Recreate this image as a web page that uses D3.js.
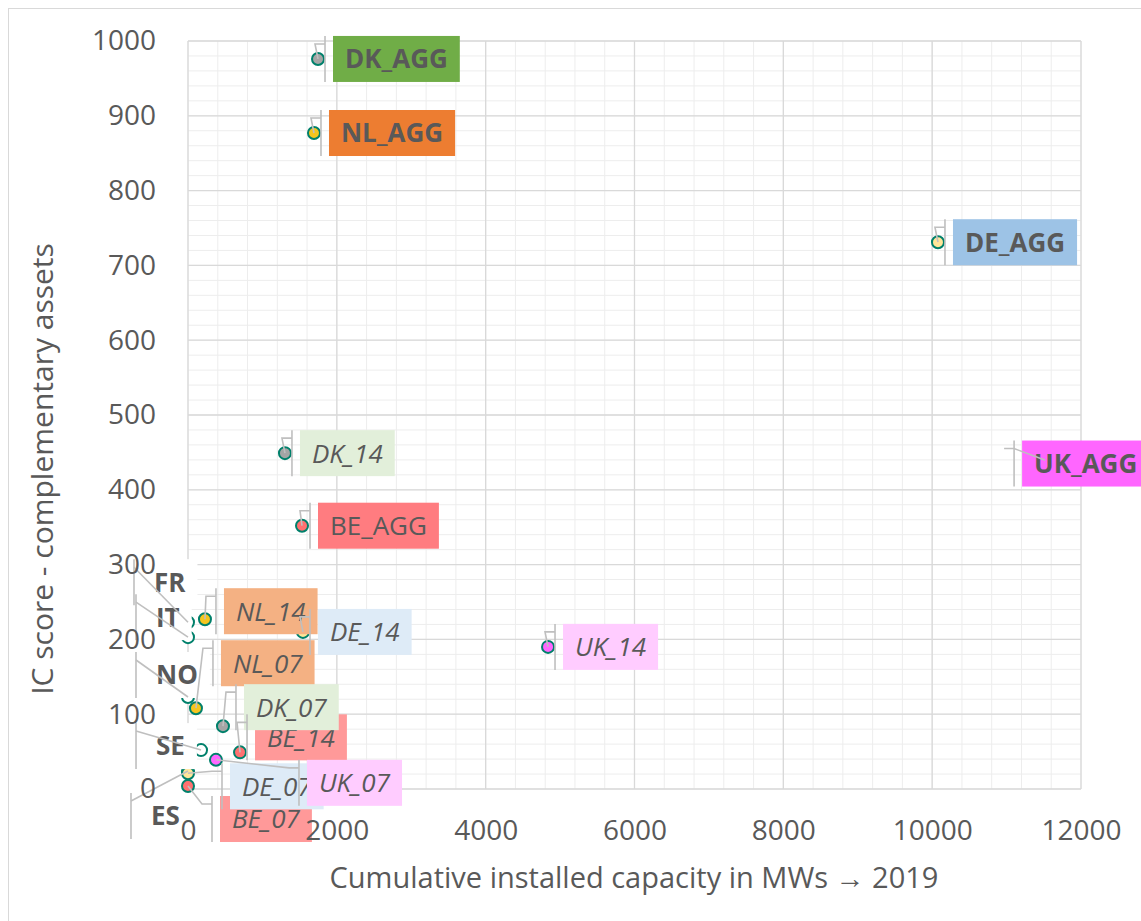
<!DOCTYPE html>
<html>
<head>
<meta charset="utf-8">
<script src="https://cdn.jsdelivr.net/npm/d3@7.9.0/dist/d3.min.js"></script>
<style>
  body { margin: 0; background: #fff; }
  svg { display: block; font-family: "Open Sans", "Noto Sans", sans-serif; }
</style>
</head>
<body>
<svg id="chart" width="1141" height="921"></svg>
<script>
// data
const names    = ["DK_AGG", "NL_AGG", "DE_AGG", "UK_AGG", "BE_AGG", "DK_14", "UK_14", "NL_14", "DE_14", "NL_07",
                  "FR", "IT", "NO", "SE", "ES", "BE_14", "DK_07", "BE_07", "DE_07", "UK_07"];
const capacity = [1747, 1693, 10078, 12700, 1532, 1303, 4838, 228, 1545, 107,
                  0, 0, 0, 175, 0, 699, 470, 0, 0, 376];
const score    = [976, 877, 731, 395, 352, 449, 190, 227, 210, 108,
                  223, 203, 123, 52, 24, 49, 84, 4, 21, 39];
const xTicks = [0, 2000, 4000, 6000, 8000, 10000, 12000];
const yTicks = [0, 100, 200, 300, 400, 500, 600, 700, 800, 900, 1000];

// styling per country / label kind
const markerFill = { DK: "#a5a5a5", NL: "#f5c51f", DE: "#ffe699", UK: "#ff66ff", BE: "#ff7070" };
const labelFill = {
  DK_AGG: "#70ad47", NL_AGG: "#ed7d31", DE_AGG: "#9dc3e6", UK_AGG: "#ff66ff", BE_AGG: "#ff7c80",
  DK_14: "#e2efda", DK_07: "#e2efda", NL_14: "#f4b183", NL_07: "#f4b183",
  DE_14: "#deebf7", DE_07: "#deebf7", UK_14: "#ffccff", UK_07: "#ffccff",
  BE_14: "#ff9999", BE_07: "#ff9999"
};
// label box offsets from the point (left edge, vertical centre)
const labelOffset = {
  UK_AGG: [-111, -30], NL_14: [19, -8], NL_07: [25, -45], DK_07: [21, -19], BE_14: [15, -15],
  DE_07: [42, 13], UK_07: [91, 23], BE_07: [32, 33], BE_AGG: [16, 0],
  FR: [-46, -40], IT: [-44, -20], NO: [-44, -22], SE: [-57, -4], ES: [-49, 45]
};

const data = names.map((n, i) => ({ name: n, x: capacity[i], y: score[i] }));

const svg = d3.select("#chart");
const textColor = "#595959";

const x = d3.scaleLinear().domain([0, 12000]).range([188, 1081]);
const y = d3.scaleLinear().domain([0, 1000]).range([789, 41]);

// outer chart border
svg.append("rect")
  .attr("x", 8.5).attr("y", 8.5).attr("width", 1300).attr("height", 1100)
  .attr("fill", "#fff").attr("stroke", "#d9d9d9");

// minor gridlines
const grid = svg.append("g");
grid.selectAll(".mx").data(d3.range(0, 12001, 400)).join("line")
  .attr("x1", d => x(d)).attr("x2", d => x(d)).attr("y1", y(0)).attr("y2", y(1000))
  .attr("stroke", "#ededed");
grid.selectAll(".my").data(d3.range(0, 1001, 20)).join("line")
  .attr("y1", d => y(d)).attr("y2", d => y(d)).attr("x1", x(0)).attr("x2", x(12000))
  .attr("stroke", "#ededed");
// major gridlines
grid.selectAll(".Mx").data(xTicks).join("line")
  .attr("x1", d => x(d)).attr("x2", d => x(d)).attr("y1", y(0)).attr("y2", y(1000))
  .attr("stroke", "#d9d9d9").attr("stroke-width", 1.3);
grid.selectAll(".My").data(yTicks).join("line")
  .attr("y1", d => y(d)).attr("y2", d => y(d)).attr("x1", x(0)).attr("x2", x(12000))
  .attr("stroke", "#d9d9d9").attr("stroke-width", 1.3);

// points, clipped to plot area
svg.append("clipPath").attr("id", "plotClip").append("rect")
  .attr("x", x(0) - 8).attr("y", y(1000) - 8).attr("width", x(12000) - x(0) + 8).attr("height", y(0) - y(1000) + 16);

svg.append("g").attr("clip-path", "url(#plotClip)")
  .selectAll("circle").data(data).join("circle")
  .attr("cx", d => x(d.x)).attr("cy", d => y(d.y)).attr("r", 6)
  .attr("fill", d => markerFill[d.name.split("_")[0]] || "#fff")
  .attr("stroke", "#00806b").attr("stroke-width", 2);

// labels
const labels = svg.append("g");
const boxes = {};
data.forEach(d => {
  const off = labelOffset[d.name] || [15, 0];
  const px = x(d.x), py = y(d.y);
  const left = px + off[0], cy = py + off[1];
  const isAgg = d.name.endsWith("AGG");
  const isCountry = !d.name.includes("_");
  const g = labels.append("g");
  const rect = g.append("rect").attr("fill", labelFill[d.name] || "#fff");
  const t = g.append("text")
    .attr("y", cy).attr("dy", "0.36em")
    .attr("fill", textColor)
    .style("font-size", "26px")
    .style("font-weight", (isAgg && d.name !== "BE_AGG") || isCountry ? "bold" : "normal")
    .style("font-style", !isAgg && !isCountry ? "italic" : "normal")
    .text(d.name);
  const w = t.node().getComputedTextLength();
  const pad = 12;
  t.attr("x", left + pad);
  rect.attr("x", left).attr("y", cy - 23).attr("width", w + pad * 2).attr("height", 46);
  boxes[d.name] = { left, top: cy - 23, bottom: cy + 23, px, py };
});

// leader lines (drawn over labels, as in the original)
svg.append("clipPath").attr("id", "leaderClip").append("rect")
  .attr("x", 0).attr("y", 0).attr("width", 1045).attr("height", 921);
const leaders = svg.append("g").attr("clip-path", "url(#leaderClip)")
  .attr("fill", "none").attr("stroke", "#bfbfbf").attr("stroke-width", 1.6);
data.forEach(d => {
  const b = boxes[d.name];
  const vx = b.left - 8, ky = b.top + 8;
  leaders.append("line")
    .attr("x1", vx).attr("x2", vx).attr("y1", b.top).attr("y2", b.bottom);
  const pts = b.px < vx
    ? [[b.px, b.py], [vx - 10, ky], [vx, ky]]
    : (b.px > b.left + 100 ? [[vx - 10, ky], [vx, ky], [b.px, b.py]] : [[b.px, b.py], [vx, ky]]);
  leaders.append("path").attr("d", d3.line()(pts));
});

// axes (labels only)
const xAxis = svg.append("g").attr("transform", `translate(0,${y(0)})`)
  .call(d3.axisBottom(x).tickValues(xTicks).tickSize(0).tickPadding(31).tickFormat(d3.format("d")));
const yAxis = svg.append("g").attr("transform", `translate(${x(0)},0)`)
  .call(d3.axisLeft(y).tickValues(yTicks).tickSize(0).tickPadding(32).tickFormat(d3.format("d")));
[xAxis, yAxis].forEach(a => {
  a.select(".domain").remove();
  a.selectAll("text").attr("fill", textColor).style("font-size", "28px")
    .style("font-family", "'Open Sans', 'Noto Sans', sans-serif");
});

// axis titles
svg.append("text")
  .attr("x", 634).attr("y", 878).attr("dy", "0.35em").attr("text-anchor", "middle")
  .attr("fill", textColor).style("font-size", "29px")
  .text("Cumulative installed capacity in MWs \u2192 2019");
svg.append("text")
  .attr("transform", "translate(42,469) rotate(-90)")
  .attr("dy", "0.35em").attr("text-anchor", "middle")
  .attr("fill", textColor).style("font-size", "30px")
  .text("IC score -  complementary assets");
</script>
</body>
</html>
